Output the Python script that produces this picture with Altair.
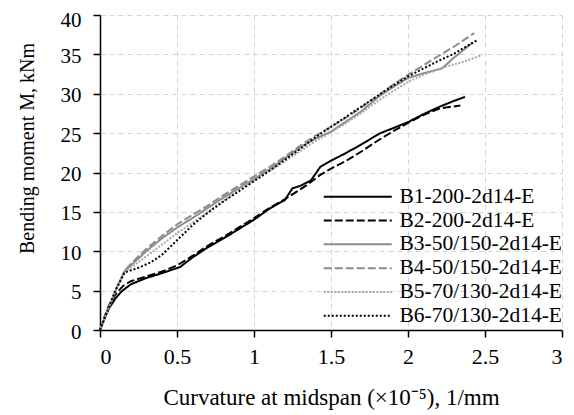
import altair as alt
import pandas as pd

series_names = ["B1-200-2d14-E", "B2-200-2d14-E", "B3-50/150-2d14-E",
                "B4-50/150-2d14-E", "B5-70/130-2d14-E", "B6-70/130-2d14-E"]

b1_x = [0, 0.03, 0.06, 0.1, 0.14, 0.2, 0.3, 0.4, 0.52, 0.6, 0.7, 0.8, 0.9, 1.0, 1.1, 1.2, 1.25,
        1.3, 1.37, 1.43, 1.5, 1.6, 1.7, 1.82, 1.9, 2.0, 2.1, 2.21, 2.3, 2.37]
b1_m = [0, 1.5, 2.8, 4.0, 4.9, 5.8, 6.6, 7.2, 8.0, 9.2, 10.5, 11.6, 12.8, 14.0, 15.4, 16.5, 18.0,
        18.3, 19.0, 20.7, 21.5, 22.5, 23.6, 25.0, 25.6, 26.4, 27.4, 28.4, 29.1, 29.6]

b2_x = [0, 0.03, 0.06, 0.1, 0.15, 0.2, 0.3, 0.4, 0.5, 0.6, 0.7, 0.8, 0.9, 1.0, 1.1, 1.2, 1.28,
        1.35, 1.43, 1.5, 1.6, 1.7, 1.8, 1.9, 2.0, 2.1, 2.2, 2.26, 2.34]
b2_m = [0, 1.7, 3.2, 4.5, 5.6, 6.2, 6.8, 7.4, 8.2, 9.4, 10.7, 11.8, 13.0, 14.2, 15.5, 16.6, 17.6,
        18.5, 19.7, 20.5, 21.5, 22.7, 24.0, 25.2, 26.3, 27.3, 28.1, 28.3, 28.5]

b3_x = [0, 0.05, 0.1, 0.16, 0.2, 0.3, 0.4, 0.5, 0.6, 0.7, 0.8, 0.9, 1.0, 1.1, 1.2, 1.3, 1.4,
        1.5, 1.6, 1.7, 1.82, 1.9, 2.0, 2.1, 2.22, 2.3, 2.42]
b3_m = [0, 2.5, 5.0, 7.5, 8.2, 10.0, 11.6, 13.0, 14.2, 15.5, 16.8, 18.0, 19.2, 20.4, 21.8, 23.2,
        24.3, 25.2, 26.5, 27.8, 29.8, 30.8, 32.0, 32.6, 33.2, 34.6, 36.5]

b4_x = [0, 0.05, 0.1, 0.16, 0.2, 0.3, 0.4, 0.5, 0.6, 0.7, 0.8, 0.9, 1.0, 1.1, 1.2, 1.3, 1.4,
        1.5, 1.6, 1.7, 1.8, 1.9, 2.0, 2.1, 2.19, 2.3, 2.43]
b4_m = [0, 2.5, 5.0, 7.5, 8.4, 10.3, 11.9, 13.4, 14.6, 15.8, 17.1, 18.3, 19.5, 20.7, 22.0, 23.4,
        24.7, 25.8, 27.0, 28.3, 29.7, 31.1, 32.4, 33.6, 34.7, 36.0, 37.7]

b5_x = [0, 0.05, 0.1, 0.16, 0.2, 0.31, 0.4, 0.5, 0.6, 0.7, 0.8, 0.9, 1.0, 1.1, 1.2, 1.3, 1.4,
        1.5, 1.6, 1.7, 1.8, 1.9, 2.0, 2.1, 2.24, 2.35, 2.48]
b5_m = [0, 2.5, 5.0, 7.4, 7.9, 9.5, 10.8, 12.3, 13.6, 15.0, 16.4, 17.8, 19.0, 20.2, 21.4, 22.7,
        24.0, 25.1, 26.3, 27.6, 29.0, 30.3, 31.5, 32.4, 33.4, 34.0, 34.9]

b6_x = [0, 0.05, 0.1, 0.16, 0.25, 0.33, 0.4, 0.49, 0.6, 0.7, 0.8, 0.9, 1.0, 1.1, 1.2, 1.3, 1.4,
        1.5, 1.6, 1.7, 1.8, 1.9, 2.0, 2.1, 2.2, 2.3, 2.45]
b6_m = [0, 2.5, 5.0, 7.3, 7.9, 8.6, 9.5, 11.2, 13.3, 14.9, 16.3, 17.6, 18.9, 20.2, 21.6, 23.0,
        24.5, 25.8, 27.1, 28.4, 29.7, 31.0, 32.2, 33.2, 34.2, 35.1, 36.8]

all_x = [b1_x, b2_x, b3_x, b4_x, b5_x, b6_x]
all_m = [b1_m, b2_m, b3_m, b4_m, b5_m, b6_m]

rows = []
for name, xs, ms in zip(series_names, all_x, all_m):
    for i, (xv, mv) in enumerate(zip(xs, ms)):
        rows.append({"series": name, "curv": xv, "M": mv, "order": i})
df = pd.DataFrame(rows)

colors = ["#000000", "#000000", "#8c8c8c", "#8c8c8c", "#a8a8a8", "#000000"]
dashes = [[1, 0], [8, 3], [1, 0], [8, 3], [2, 1.5], [2, 2]]

font = "Liberation Serif"

chart = alt.Chart(df).mark_line(strokeWidth=2).encode(
    x=alt.X("curv:Q",
            scale=alt.Scale(domain=[0, 3], nice=False),
            axis=alt.Axis(values=[0, 0.5, 1, 1.5, 2, 2.5, 3], format="~g",
                          title="Curvature at midspan (×10⁻⁵), 1/mm",
                          titleFontSize=23, titlePadding=19)),
    y=alt.Y("M:Q",
            scale=alt.Scale(domain=[0, 40], nice=False),
            axis=alt.Axis(values=[0, 5, 10, 15, 20, 25, 30, 35, 40],
                          labelFontSize=21,
                          labelOffset={"condition": {"test": "datum.value == 40", "value": 5.5},
                                       "value": 2},
                          title="Bending moment M, kNm", titleFontSize=20,
                          titleAngle=270, titleX=-73, titleY=133,
                          titleBaseline="middle", titleAlign="center")),
    color=alt.Color("series:N",
                    scale=alt.Scale(domain=series_names, range=colors),
                    legend=alt.Legend(title=None, orient="none", legendX=247, legendY=171,
                                      padding=0, labelLimit=0,
                                      symbolType="M-4,0L4,0", symbolSize=289,
                                      symbolStrokeWidth=2, labelFont=font, labelFontSize=21.5,
                                      labelColor="#000000", labelOffset=31, rowPadding=0.8)),
    strokeDash=alt.StrokeDash("series:N",
                              scale=alt.Scale(domain=series_names, range=dashes),
                              legend=None),
    order="order:Q",
).properties(
    width=462, height=315,
    autosize=alt.AutoSizeParams(type="none"),
    padding={"left": 92, "top": 7, "right": 4, "bottom": 80},
).configure_axis(
    labelFont=font, titleFont=font, labelFontSize=22,
    labelColor="#000000", titleColor="#000000", titleFontWeight="normal",
    domainColor="#000000", domainWidth=1.5, tickColor="#000000", tickSize=7, tickWidth=1.5,
    gridColor="#d4d4d4", gridDash=[5, 4], gridWidth=1,
).configure_axisX(labelPadding=9).configure_axisY(
    labelPadding=12
).configure_view(stroke=None)

chart.save("out.html", embed_options={"renderer": "svg", "actions": False})
